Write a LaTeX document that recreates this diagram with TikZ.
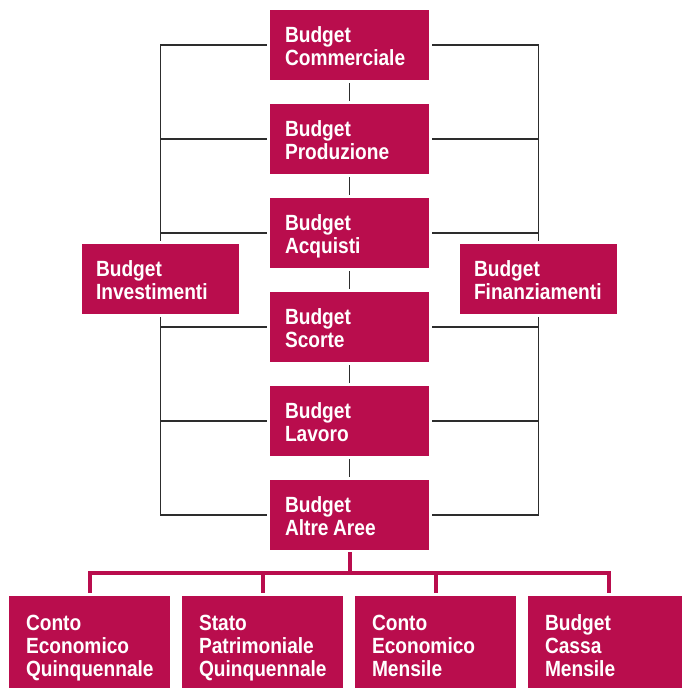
\documentclass[tikz,border=0pt]{standalone}
\usepackage{fontspec}
\setmainfont{Liberation Sans}[FakeStretch=0.87]
\usepackage{xcolor}
\usepackage{tikz}

\definecolor{budgetred}{RGB}{185,13,77}
\definecolor{linegray}{RGB}{45,45,45}

\tikzset{
    budget/.style={fill=budgetred, text=white, inner sep=0pt, align=left,
        minimum width=159pt, minimum height=70pt, text width=129pt,
        font=\bfseries\fontsize{22}{22.5}\selectfont,
        execute at begin node={\spaceskip=4.5pt\relax\rule{0pt}{22.7pt}},
        execute at end node={\rule[-5pt]{0pt}{5pt}}},
    side/.style={budget, minimum width=157pt},
    result/.style={budget, minimum width=161pt, minimum height=92pt, text width=127pt,
        font=\bfseries\fontsize{22}{23}\selectfont,
        execute at begin node={\rule{0pt}{27pt}}},
    link/.style={draw=linegray, line width=1.3pt, shorten <=3pt, shorten >=3pt},
    bus/.style={draw=budgetred, line width=4pt}
}

\begin{document}
\begin{tikzpicture}[x=1pt,y=-1pt]
            \clip (0,0) rectangle (682,688);

            \node[budget] (com) at (349.5,45) {Budget\\Commerciale};
            \node[budget] (pro) at (349.5,139) {Budget\\Produzione};
            \node[budget] (acq) at (349.5,233) {Budget\\Acquisti};
            \node[budget] (sco) at (349.5,327) {Budget\\Scorte};
            \node[budget] (lav) at (349.5,421) {Budget\\Lavoro};
            \node[budget] (alt) at (349.5,515) {Budget\\Altre Aree};

            \node[side] (inv) at (160.5,279) {Budget\\Investimenti};
            \node[side] (fin) at (538.5,279) {Budget\\Finanziamenti};

            \node[result] (ceq) at (89.5,642) {Conto\\Economico\\Quinquennale};
            \node[result] (spq) at (262.5,642) {Stato\\Patrimoniale\\Quinquennale};
            \node[result] (cem) at (435.5,642) {Conto\\Economico\\Mensile};
            \node[result] (bcm) at (608.5,642) {Budget\\Cassa\\Mensile};

            \begin{scope}[link]
                \draw (com) -- (pro);
                \draw (pro) -- (acq);
                \draw (acq) -- (sco);
                \draw (sco) -- (lav);
                \draw (lav) -- (alt);

                \draw (com.west) -| (inv.north);
                \draw (alt.west) -| (inv.south);
                \draw (com.east) -| (fin.north);
                \draw (alt.east) -| (fin.south);
                \foreach \n in {pro,acq,sco,lav}{
                    \draw[shorten <=0pt] (\n.west -| inv.north) -- (\n.west);
                    \draw[shorten <=0pt] (\n.east -| fin.north) -- (\n.east);
                }
            \end{scope}

            \draw[bus, shorten <=2pt] (alt.south) -- ++(0,23) coordinate (hub);
            \foreach \n in {ceq,spq,cem,bcm}
                \draw[bus, shorten >=3pt] (hub) -| (\n.north);
        \end{tikzpicture}
\end{document}
